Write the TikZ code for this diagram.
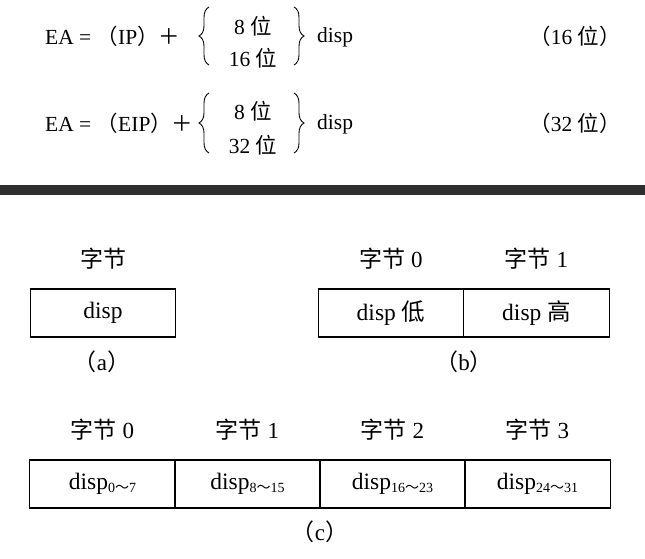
\documentclass[tikz,border=0pt]{standalone}
\usepackage{fontspec}
\setmainfont{Liberation Serif}
\newfontfamily\cjk{Noto Sans CJK SC}
\usetikzlibrary{positioning, calc, decorations.pathreplacing}

\newcommand\zh[1]{{\cjk #1}}
\newcommand\dsub[1]{\raisebox{-3pt}{\fontsize{14}{14}\selectfont #1}}

\tikzset{
  txt/.style={inner sep=0pt, font=\fontsize{21.5}{25}\selectfont},
  lbl/.style={inner sep=0pt, font=\fontsize{23}{25}\selectfont},
  cellbox/.style={draw, line width=1.4pt, minimum width=145.5pt, minimum height=48pt,
                  inner sep=0pt, font=\fontsize{23.5}{25}\selectfont},
  brc/.style={decorate, decoration={brace, amplitude=10pt}, line width=0.9pt},
}

\begin{document}
\begin{tikzpicture}[x=1pt, y=-1pt]
  \useasboundingbox (0,0) rectangle (645,558);

  % Formulas
  \node[txt, anchor=west] (eq1) at (45,36) {EA = \zh{（}IP\zh{）＋}};
  \node[txt] (w1a) at (253,26) {8 \zh{位}};
  \node[txt] (w1b) at (253,58) {16 \zh{位}};
  \node[txt, anchor=west] (d1) at (317,37) {disp};
  \node[txt] (n1) at (575,36) {\zh{（}16 \zh{位）}};

  \node[txt, anchor=west] (eq2) at (45,123) {EA = \zh{（}EIP\zh{）＋}};
  \node[txt] (w2a) at (253,111) {8 \zh{位}};
  \node[txt] (w2b) at (253,145) {32 \zh{位}};
  \node[txt, anchor=west] (d2) at (317,124) {disp};
  \node[txt] (n2) at (575,123) {\zh{（}32 \zh{位）}};

  % Braces
  \coordinate (lb1b) at (209,65);  \coordinate (lb1t) at (209,7);
  \coordinate (rb1t) at (294,7);   \coordinate (rb1b) at (294,65);
  \coordinate (lb2b) at (209,153); \coordinate (lb2t) at (209,93);
  \coordinate (rb2t) at (294,93);  \coordinate (rb2b) at (294,153);
  \draw[brc] (lb1b) -- (lb1t);
  \draw[brc] (rb1t) -- (rb1b);
  \draw[brc] (lb2b) -- (lb2t);
  \draw[brc] (rb2t) -- (rb2b);

  % Bar
  \fill[black!82] (0,185) rectangle (645,195);

  % (a)
  \node[cellbox] (a) at (103,313) {disp};
  \node[lbl] (ta) at (103,259) {\zh{字节}};
  \node[lbl] (ca) at (102,362) {\zh{（}a\zh{）}};

  % (b)
  \node[cellbox] (b0) at (391,313) {disp \zh{低}};
  \node[cellbox] (b1) at (536.5,313) {disp \zh{高}};
  \foreach \i in {0,1}
  \node[lbl] (tb\i) at ($(b\i)+(0,-54)$) {\zh{字节} \i};
  \node[lbl] (cb) at (464,362) {\zh{（}b\zh{）}};

  % (c)
  \foreach \i/\s in {0/0\zh{～}7, 1/8\zh{～}15, 2/16\zh{～}23, 3/24\zh{～}31}
  {
    \node[cellbox] (c\i) at (102.5+145*\i,484) {disp\dsub{\s}};
    \node[lbl] (tc\i) at (102.5+145*\i,430) {\zh{字节} \i};
  }
  \node[lbl] (cc) at (320,532) {\zh{（}c\zh{）}};
\end{tikzpicture}
\end{document}
